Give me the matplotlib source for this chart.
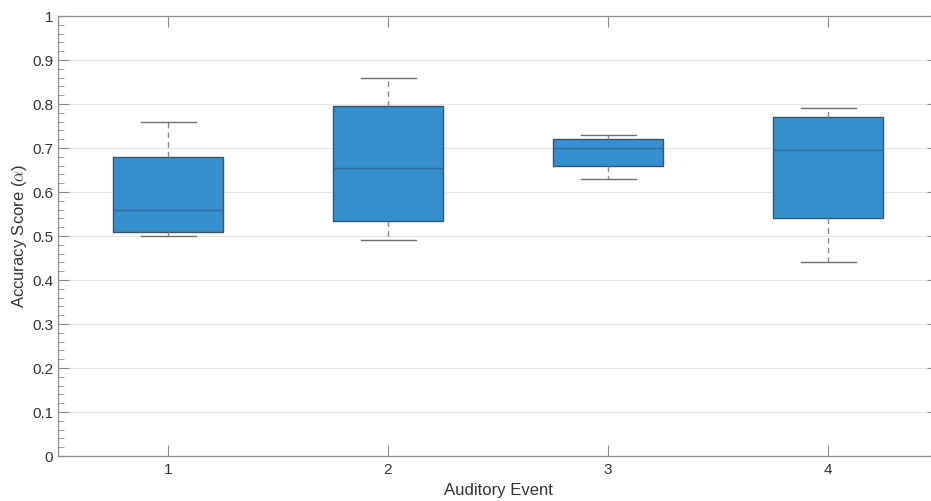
import matplotlib
matplotlib.use("Agg")
import matplotlib.pyplot as plt
from matplotlib.ticker import MultipleLocator

plt.rcParams["font.family"] = ["Liberation Sans", "DejaVu Sans"]
plt.rcParams["mathtext.fontset"] = "cm"

events = [1, 2, 3, 4]
# five-number summaries
whislo = [0.50, 0.49, 0.63, 0.44]
q1 = [0.51, 0.535, 0.66, 0.54]
med = [0.56, 0.655, 0.70, 0.695]
q3 = [0.68, 0.795, 0.72, 0.77]
whishi = [0.76, 0.86, 0.73, 0.79]
yticks = [0, 0.1, 0.2, 0.3, 0.4, 0.5, 0.6, 0.7, 0.8, 0.9, 1]
ylabels = ["0", "0.1", "0.2", "0.3", "0.4", "0.5", "0.6", "0.7", "0.8", "0.9", "1"]

stats = [dict(whislo=a, q1=b, med=c, q3=d, whishi=e, fliers=[])
         for a, b, c, d, e in zip(whislo, q1, med, q3, whishi)]

BLUE = "#3690cd"
AX = "#8c8c8c"
TXT = "#333333"

fig = plt.figure(figsize=(9.31, 5.01), dpi=100)
ax = fig.add_axes([58 / 931, 45 / 501, 880 / 931, 440 / 501])

ax.bxp(stats, positions=events, widths=0.5, patch_artist=True,
       boxprops=dict(facecolor=BLUE, edgecolor="#34536e", linewidth=1.0),
       medianprops=dict(color="#2a6a9e", linewidth=1.0),
       whiskerprops=dict(color="#8a8a8a", linestyle=(0, (4, 3)), linewidth=1.0),
       capprops=dict(color="#6e6e6e", linewidth=1.0),
       capwidths=0.25, zorder=3)

ax.set_xlim(0.5, 4.5)
ax.set_ylim(0, 1)
ax.set_xticks(events)
ax.set_xticklabels([str(e) for e in events])
ax.set_yticks(yticks)
ax.set_yticklabels(ylabels)
ax.yaxis.set_minor_locator(MultipleLocator(0.02))
ax.grid(axis="y", color="#e6e6e6", linewidth=0.8, zorder=0)
ax.set_axisbelow(True)

for s in ax.spines.values():
    s.set_color(AX)
    s.set_linewidth(0.9)
ax.tick_params(which="both", direction="in", top=True, right=True,
               color=AX, labelcolor=TXT, labelsize=11)
ax.tick_params(which="major", length=8, width=0.8)
ax.tick_params(which="minor", length=4, width=0.6)
ax.tick_params(axis="x", which="minor", bottom=False, top=False)
ax.tick_params(axis="x", pad=5)

ax.set_xlabel("Auditory Event", fontsize=12, color=TXT, labelpad=4)
ax.set_ylabel(r"Accuracy Score ($\alpha$)", fontsize=12, color=TXT, labelpad=2)

fig.savefig("out.png", dpi=100)
